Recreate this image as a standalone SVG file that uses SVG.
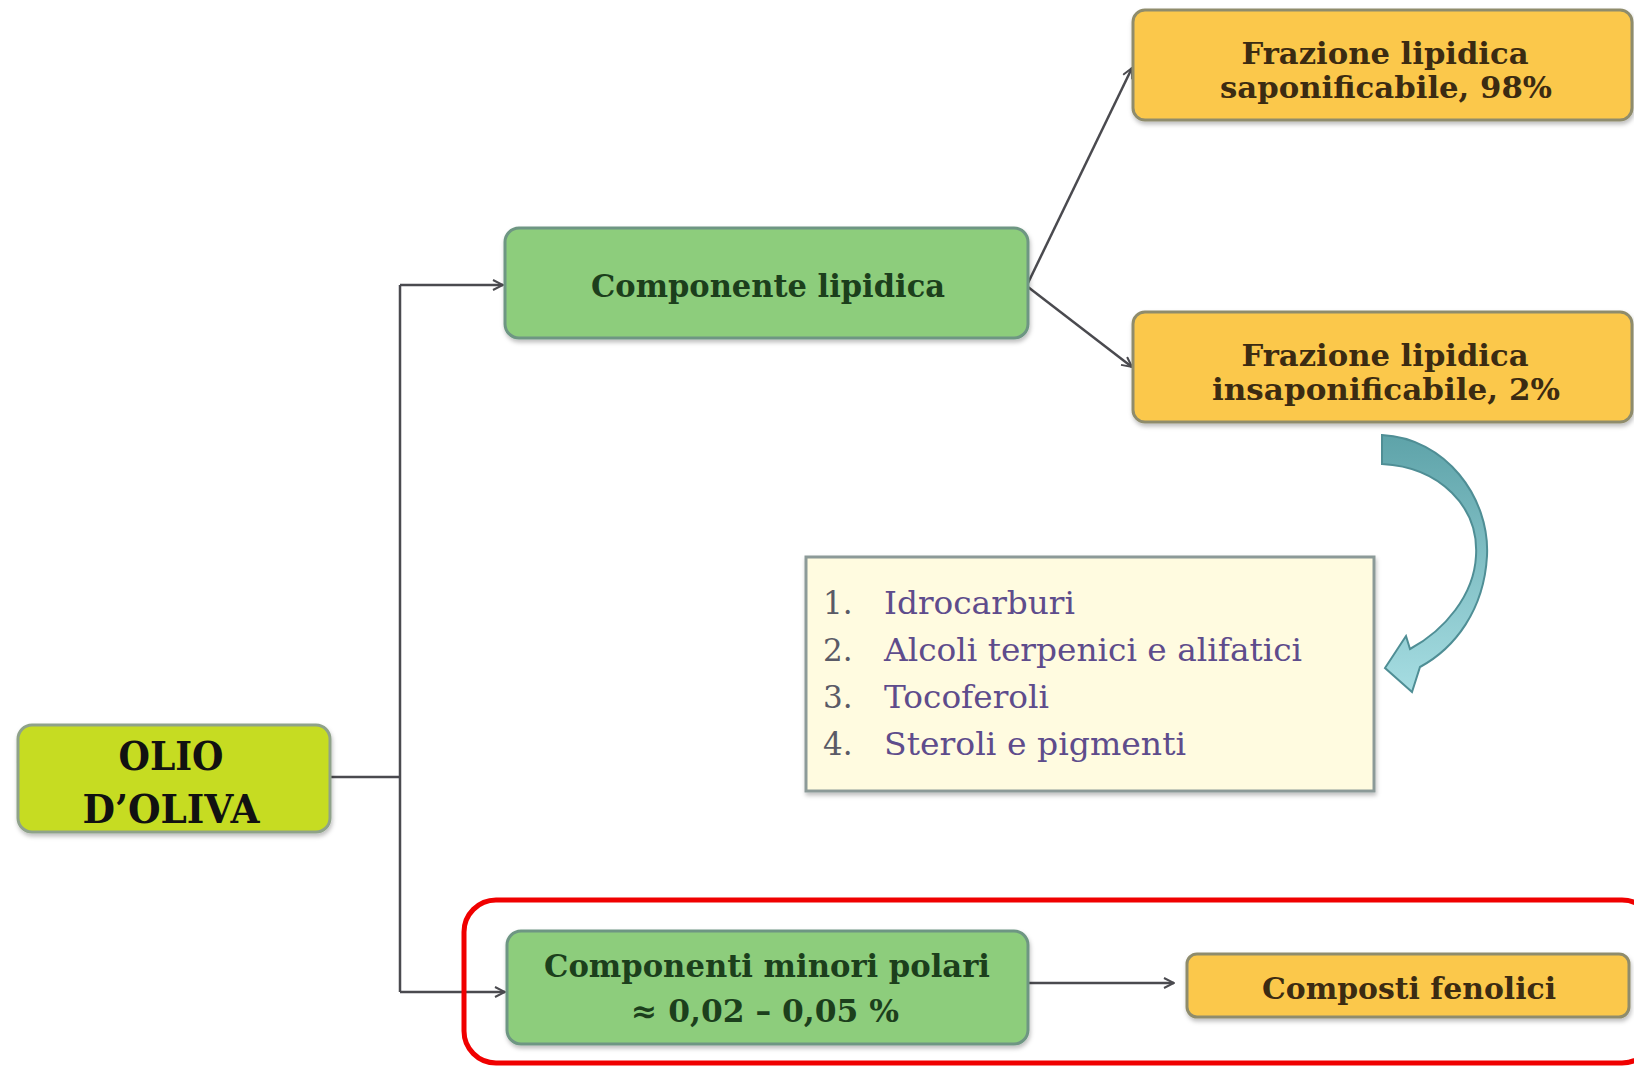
<svg xmlns="http://www.w3.org/2000/svg" width="1634" height="1067" viewBox="0 0 1634 1067">
<style>
.conn{fill:none;stroke:#4a4a4f;stroke-width:2.5}
.box{stroke-width:3}
.lime{fill:#c6dc24;stroke:#8fa28a}
.green{fill:#8dcd7c;stroke:#6e9683}
.orange{fill:#fbc84c;stroke:#8f8c6c}
.list{fill:#fffbe0;stroke:#8c9a98}
.t{font-family:"DejaVu Serif","Liberation Serif",serif;text-anchor:middle;font-weight:bold}
.tg{fill:#1c3f1c;font-size:31px}
.tb{fill:#3b2b12;font-size:30px}
.tl{font-family:"DejaVu Serif","Liberation Serif",serif;font-size:31px;fill:#5e4c8c}
.num{fill:#5a5a66}
</style>
<defs>
<marker id="arr" viewBox="0 0 12 12" refX="11" refY="6" markerWidth="12" markerHeight="12" markerUnits="userSpaceOnUse" orient="auto">
<path d="M1,1 L11,6 L1,11" fill="none" stroke="#4a4a4f" stroke-width="2"/>
</marker>
<filter id="sh" x="-5%" y="-10%" width="110%" height="130%">
<feDropShadow dx="1" dy="3" stdDeviation="2" flood-color="#000" flood-opacity="0.25"/>
</filter>
<linearGradient id="teal" x1="0" y1="0" x2="0" y2="1">
<stop offset="0" stop-color="#5ea3a9"/>
<stop offset="1" stop-color="#a6dde2"/>
</linearGradient>
</defs>
<rect width="1634" height="1067" fill="#ffffff"/>

<g id="connectors">
<path class="conn" d="M330,777 H400"/>
<path class="conn" d="M400,285 V992"/>
<path class="conn" d="M400,285 H503" marker-end="url(#arr)"/>
<path class="conn" d="M400,992 H505" marker-end="url(#arr)"/>
<path class="conn" d="M1028,283 L1132,68" marker-end="url(#arr)"/>
<path class="conn" d="M1028,287 L1132,367" marker-end="url(#arr)"/>
<path class="conn" d="M1028,983 H1174" marker-end="url(#arr)" stroke="#707078"/>
</g>

<g id="curved-arrow">
<path d="M1382,435 C1445,438 1490,497 1487,556 C1484,610 1455,648 1420,667 L1412,692 L1385,668 L1406,636 L1410,649 C1445,630 1474,595 1476,556 C1479,507 1440,467 1382,464 Z" fill="url(#teal)" stroke="#4f8e95" stroke-width="2"/>
</g>

<g id="olio">
<rect class="box lime" x="18" y="725" width="312" height="107" rx="14" filter="url(#sh)"/>
<text class="t" x="171" y="770" font-size="40" fill="#111" textLength="105" lengthAdjust="spacingAndGlyphs">OLIO</text>
<text class="t" x="171" y="823" font-size="40" fill="#111" textLength="177" lengthAdjust="spacingAndGlyphs">D’OLIVA</text>
</g>

<g id="componente-lipidica">
<rect class="box green" x="505" y="228" width="523" height="110" rx="14" filter="url(#sh)"/>
<text class="t tg" x="768" y="297" textLength="354" lengthAdjust="spacingAndGlyphs">Componente lipidica</text>
</g>

<g id="saponificabile">
<rect class="box orange" x="1133" y="10" width="499" height="110" rx="12" filter="url(#sh)"/>
<text class="t tb" x="1385" y="64" textLength="287" lengthAdjust="spacingAndGlyphs">Frazione lipidica</text>
<text class="t tb" x="1386" y="98" textLength="332" lengthAdjust="spacingAndGlyphs">saponificabile, 98%</text>
</g>

<g id="insaponificabile">
<rect class="box orange" x="1133" y="312" width="499" height="110" rx="12" filter="url(#sh)"/>
<text class="t tb" x="1385" y="366" textLength="287" lengthAdjust="spacingAndGlyphs">Frazione lipidica</text>
<text class="t tb" x="1386" y="400" textLength="348" lengthAdjust="spacingAndGlyphs">insaponificabile, 2%</text>
</g>

<g id="lista">
<rect class="box list" x="806" y="557" width="568" height="234" filter="url(#sh)"/>
<text class="tl num" x="823" y="614">1.</text>
<text class="tl" x="884" y="614" textLength="191" lengthAdjust="spacingAndGlyphs">Idrocarburi</text>
<text class="tl num" x="823" y="661">2.</text>
<text class="tl" x="884" y="661" textLength="418" lengthAdjust="spacingAndGlyphs">Alcoli terpenici e alifatici</text>
<text class="tl num" x="823" y="708">3.</text>
<text class="tl" x="884" y="708" textLength="165" lengthAdjust="spacingAndGlyphs">Tocoferoli</text>
<text class="tl num" x="823" y="755">4.</text>
<text class="tl" x="884" y="755" textLength="302" lengthAdjust="spacingAndGlyphs">Steroli e pigmenti</text>
</g>

<g id="componenti-minori">
<rect class="box green" x="507" y="931" width="521" height="113" rx="14" filter="url(#sh)"/>
<text class="t tg" x="767" y="977" textLength="446" lengthAdjust="spacingAndGlyphs">Componenti minori polari</text>
<text class="t tg" x="765" y="1022" textLength="268" lengthAdjust="spacingAndGlyphs">≈ 0,02 – 0,05 %</text>
</g>

<g id="composti-fenolici">
<rect class="box orange" x="1187" y="954" width="442" height="63" rx="10" filter="url(#sh)"/>
<text class="t tb" x="1409" y="999" textLength="294" lengthAdjust="spacingAndGlyphs">Composti fenolici</text>
</g>

<g id="highlight">
<rect x="464" y="900" width="1190" height="163" rx="32" fill="none" stroke="#f00000" stroke-width="5"/>
</g>
</svg>
